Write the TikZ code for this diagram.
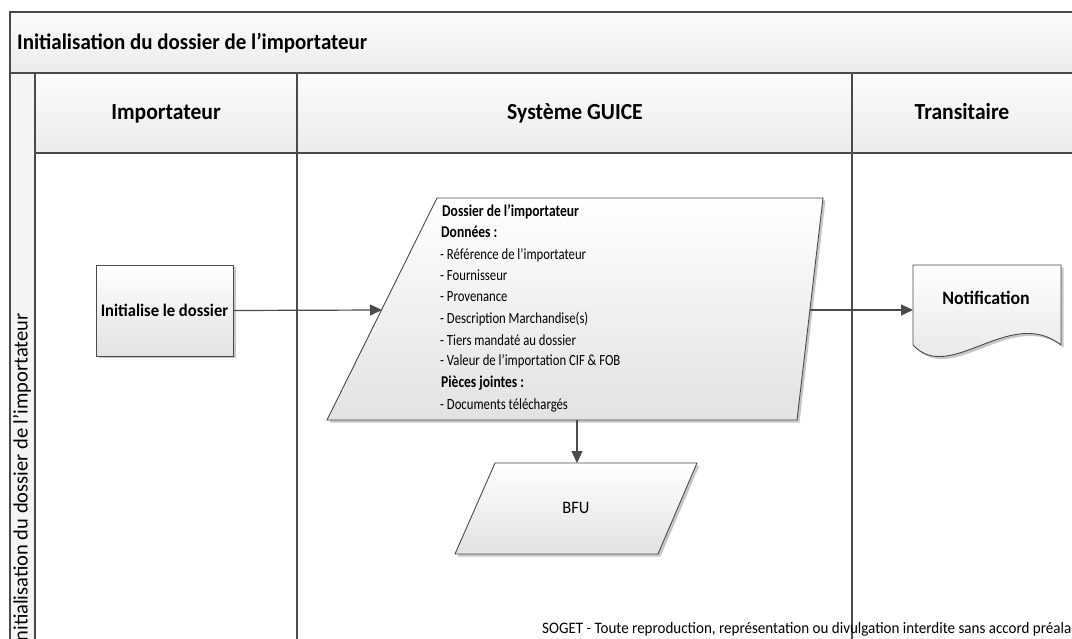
\documentclass[tikz,border=0pt]{standalone}
\usepackage{fontspec}
\setmainfont{Carlito}
\newfontfamily\fw{Carlito}[FakeStretch=0.94]
\newfontfamily\fn{Carlito}[FakeStretch=0.82]
\usetikzlibrary{arrows.meta,shadows}
\definecolor{ln}{HTML}{4A4A4A}
\definecolor{hdtop}{HTML}{FCFCFC}
\definecolor{hdbot}{HTML}{EBEBEB}
\definecolor{shbot}{HTML}{E2E2E2}
\definecolor{strip}{HTML}{F4F4F4}
\tikzset{
  frame/.style={draw=ln, line width=1.6pt},
  band/.style={frame, top color=hdtop, bottom color=hdbot},
  shp/.style={draw=ln, line width=0.9pt, top color=white, bottom color=shbot,
    drop shadow={shadow xshift=2.5pt, shadow yshift=-2.5pt, fill=black!22, opacity=1}},
  conn/.style={draw=ln, line width=1.2pt, -{Triangle[length=12pt,width=11pt]}},
  ttl/.style={font=\fw\bfseries\fontsize{22.3}{24}\selectfont, inner sep=0pt},
  hdr/.style={font=\fw\bfseries\fontsize{23}{26}\selectfont, inner sep=0pt},
  boxtxt/.style={font=\fw\bfseries\fontsize{17.6}{20}\selectfont},
  item/.style={font=\fn\fontsize{15.5}{17}\selectfont, inner sep=0pt, anchor=base west},
  itemb/.style={font=\fn\bfseries\fontsize{16.5}{18}\selectfont, inner sep=0pt, anchor=base west},
}
\begin{document}
\begin{tikzpicture}[x=1pt,y=-1pt]
\useasboundingbox (0,0) rectangle (1072,639);
\fill[white] (0,0) rectangle (1072,639);
% pool frame
\path[band] (10,12) rectangle (1090,73);
\node[ttl, anchor=base west] (title) at (17,50) {Initialisation du dossier de l’importateur};
\path[frame, fill=strip] (10,73) rectangle (35,660);
\path[frame, fill=white] (35,153) rectangle (297,660);
\path[frame, fill=white] (297,153) rectangle (852,660);
\path[frame, fill=white] (852,153) rectangle (1090,660);
\path[band] (35,73) rectangle (297,153);
\path[band] (297,73) rectangle (852,153);
\path[band] (852,73) rectangle (1090,153);
\node[hdr, anchor=base] (h1) at (166,120) {Importateur};
\node[hdr, anchor=base] (h2) at (575,120) {Système GUICE};
\node[hdr, anchor=base] (h3) at (962,120) {Transitaire};
\node[rotate=90, anchor=east, inner sep=0pt, font=\fontsize{20.5}{22}\selectfont] (pool) at (22,313) {Initialisation du dossier de l’importateur};
% process box
\node[shp, boxtxt, minimum width=137pt, minimum height=91pt, inner sep=0pt] (init) at (164.5,310.5) {Initialise le dossier};
% data shape
\path[shp] (437,198) -- (823,198) -- (797,420) -- (327,420) -- cycle;
\coordinate (dL) at (382,310);
\coordinate (dR) at (810,310);
\coordinate (dB) at (577,420);
\node[itemb] (t1) at (442,217) {Dossier de l’importateur};
\node[itemb] (t2) at (441,238) {Données :};
\node[item] (t3) at (440,260) {- Référence de l’importateur};
\node[item] (t4) at (440,281) {- Fournisseur};
\node[item] (t5) at (440,302) {- Provenance};
\node[item] (t6) at (440,324) {- Description Marchandise(s)};
\node[item] (t7) at (440,345) {- Tiers mandaté au dossier};
\node[item] (t8) at (440,366) {- Valeur de l’importation CIF \& FOB};
\node[itemb] (t9) at (441,387) {Pièces jointes :};
\node[item] (t10) at (440,409) {- Documents téléchargés};
% BFU
\path[shp] (495,463) -- (697,463) -- (658,554) -- (455,554) -- cycle;
\coordinate (bT) at (577,463);
\node[font=\fw\fontsize{17.5}{19}\selectfont] (bfu) at (576,508) {BFU};
% Notification document
\path[shp] (913,265) -- (1061,265) -- (1061,345) .. controls (1010,305) and (950,385) .. (913,345) -- cycle;
\coordinate (nL) at (913,310);
\node[font=\fw\bfseries\fontsize{19}{21}\selectfont] (notif) at (986,298) {Notification};
% connectors
\draw[conn] (init.east) -- (dL);
\draw[conn] (dR) -- (nL);
\draw[conn] (dB) -- (bT);
% footer
\node[anchor=base west, inner sep=0pt, font=\fw\fontsize{16}{18}\selectfont] (foot) at (542,633) {SOGET - Toute reproduction, représentation ou divulgation interdite sans accord préalable};
\end{tikzpicture}
\end{document}
